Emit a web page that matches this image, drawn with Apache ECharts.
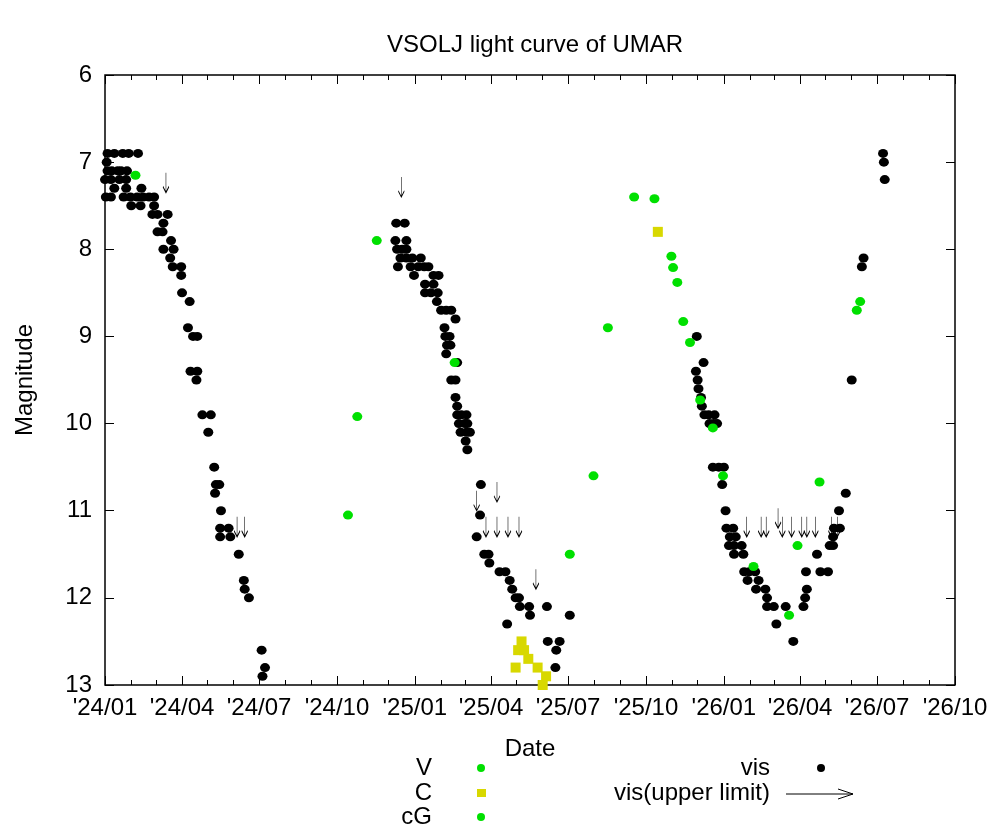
<!DOCTYPE html>
<html><head><meta charset="utf-8">
<script src="https://cdn.jsdelivr.net/npm/echarts@6/dist/echarts.min.js"></script>
<style>html,body{margin:0;padding:0;background:#fff}#c{width:1001px;height:840px}</style>
</head><body><div id="c"></div>
<script>
const titleText = 'VSOLJ light curve of UMAR';
const xStart = '2024-01-01', xEnd = '2026-10-01';
const quarterTicks = ['2024-01-01','2024-04-01','2024-07-01','2024-10-01','2025-01-01','2025-04-01','2025-07-01','2025-10-01','2026-01-01','2026-04-01','2026-07-01','2026-10-01'];
const magTicks = [6,7,8,9,10,11,12,13];

const visData = [
 ['2024-01-04',6.9],['2024-01-12',6.9],['2024-01-22',6.9],['2024-01-29',6.9],['2024-02-09',6.9],
 ['2024-01-04',7.1],['2024-01-09',7.1],['2024-01-16',7.1],['2024-01-20',7.1],['2024-01-27',7.1],['2024-01-03',7.0],
 ['2024-01-01',7.2],['2024-01-08',7.2],['2024-01-18',7.2],['2024-01-26',7.2],
 ['2024-01-12',7.3],['2024-01-26',7.3],['2024-02-13',7.3],
 ['2024-01-02',7.4],['2024-01-08',7.4],['2024-01-23',7.4],['2024-01-31',7.4],['2024-02-08',7.4],['2024-02-15',7.4],['2024-02-22',7.4],['2024-02-28',7.4],
 ['2024-02-01',7.5],['2024-02-12',7.5],['2024-02-28',7.5],
 ['2024-02-26',7.6],['2024-03-03',7.6],['2024-03-15',7.6],['2024-03-10',7.7],['2024-03-03',7.8],['2024-03-09',7.8],
 ['2024-03-19',7.9],['2024-03-10',8.0],['2024-03-22',8.0],['2024-03-18',8.1],['2024-03-21',8.2],['2024-03-31',8.2],['2024-03-31',8.3],
 ['2024-04-01',8.5],['2024-04-10',8.6],['2024-04-08',8.9],['2024-04-14',9.0],['2024-04-19',9.0],['2024-04-11',9.4],['2024-04-19',9.4],['2024-04-18',9.5],
 ['2024-04-25',9.9],['2024-05-05',9.9],['2024-05-02',10.1],['2024-05-09',10.5],['2024-05-11',10.7],['2024-05-15',10.7],['2024-05-10',10.8],
 ['2024-05-17',11.0],['2024-05-16',11.2],['2024-05-26',11.2],['2024-05-16',11.3],['2024-05-28',11.3],['2024-06-07',11.5],
 ['2024-06-13',11.8],['2024-06-14',11.9],['2024-06-19',12.0],['2024-07-04',12.6],['2024-07-08',12.8],['2024-07-05',12.9],
 ['2024-12-10',7.7],['2024-12-20',7.7],['2024-12-09',7.9],['2024-12-22',7.9],['2024-12-11',8.0],['2024-12-17',8.0],['2024-12-22',8.0],
 ['2024-12-15',8.1],['2024-12-22',8.1],['2024-12-29',8.1],['2025-01-08',8.1],['2024-12-12',8.2],['2024-12-27',8.2],['2025-01-05',8.2],['2025-01-12',8.2],['2025-01-17',8.2],
 ['2024-12-31',8.3],['2025-01-23',8.3],['2025-01-29',8.3],['2025-01-13',8.4],['2025-01-23',8.4],['2025-01-13',8.5],['2025-01-20',8.5],['2025-01-28',8.5],
 ['2025-01-27',8.6],['2025-02-01',8.7],['2025-02-07',8.7],['2025-02-13',8.7],['2025-02-18',8.8],['2025-02-05',8.9],['2025-02-06',9.0],['2025-02-11',9.0],
 ['2025-02-08',9.1],['2025-02-12',9.1],['2025-02-07',9.2],['2025-02-20',9.3],['2025-02-13',9.5],['2025-02-18',9.5],['2025-02-18',9.7],['2025-02-20',9.8],
 ['2025-02-20',9.9],['2025-02-25',9.9],['2025-03-03',9.9],['2025-02-22',10.0],['2025-03-01',10.0],['2025-03-04',10.0],['2025-02-24',10.1],['2025-03-03',10.1],['2025-03-07',10.1],
 ['2025-03-02',10.2],['2025-03-04',10.3],['2025-03-20',10.7],['2025-03-19',11.05],['2025-03-15',11.3],['2025-03-24',11.5],['2025-03-29',11.5],['2025-03-30',11.6],
 ['2025-04-11',11.7],['2025-04-18',11.7],['2025-04-23',11.8],['2025-04-26',11.9],['2025-04-30',12.0],['2025-05-04',12.0],['2025-05-05',12.1],['2025-05-16',12.1],['2025-06-06',12.1],
 ['2025-05-17',12.2],['2025-07-03',12.2],['2025-04-20',12.3],['2025-06-07',12.5],['2025-06-21',12.5],['2025-06-17',12.6],['2025-06-16',12.8],
 ['2025-11-30',9.0],['2025-12-08',9.3],['2025-11-29',9.4],['2025-12-01',9.5],['2025-12-02',9.6],['2025-12-05',9.7],['2025-12-06',9.8],
 ['2025-12-09',9.9],['2025-12-14',9.9],['2025-12-21',9.9],['2025-12-15',10.0],['2025-12-20',10.0],['2025-12-24',10.0],
 ['2025-12-19',10.5],['2025-12-26',10.5],['2026-01-01',10.5],['2025-12-30',10.7],['2026-01-03',11.0],['2026-01-04',11.2],['2026-01-12',11.2],
 ['2026-01-08',11.3],['2026-01-15',11.3],['2026-01-07',11.4],['2026-01-13',11.4],['2026-01-22',11.4],['2026-01-13',11.5],['2026-01-24',11.5],
 ['2026-01-25',11.7],['2026-01-31',11.7],['2026-02-07',11.7],['2026-01-29',11.8],['2026-02-11',11.8],['2026-02-08',11.9],['2026-02-19',11.9],['2026-02-21',12.0],
 ['2026-02-21',12.1],['2026-03-01',12.1],['2026-03-15',12.1],['2026-03-04',12.3],['2026-03-24',12.5],['2026-04-05',12.1],['2026-04-07',12.0],['2026-04-09',11.9],['2026-04-08',11.7],
 ['2026-04-21',11.5],['2026-04-25',11.7],['2026-05-04',11.7],['2026-05-06',11.4],['2026-05-10',11.4],['2026-05-10',11.3],['2026-05-11',11.2],['2026-05-18',11.2],
 ['2026-05-17',11.0],['2026-05-25',10.8],['2026-06-01',9.5],['2026-06-13',8.2],['2026-06-15',8.1],['2026-07-08',6.9],['2026-07-09',7.0],['2026-07-10',7.2]
];
const visLimitData = [
 ['2024-03-13',7.35],['2024-06-05',11.3],['2024-06-14',11.3],['2024-12-16',7.4],
 ['2025-03-15',11.0],['2025-04-08',10.9],['2025-03-26',11.3],['2025-04-08',11.3],['2025-04-21',11.3],['2025-05-04',11.3],['2025-05-24',11.9],
 ['2026-01-28',11.3],['2026-02-14',11.3],['2026-02-20',11.3],['2026-03-06',11.2],['2026-03-11',11.3],['2026-03-22',11.3],['2026-04-03',11.3],
 ['2026-04-09',11.3],['2026-04-19',11.3],['2026-05-08',11.3],['2026-05-15',11.3]
];
const vData = [
 ['2024-02-06',7.15],['2024-10-14',11.05],['2024-10-25',9.92],['2024-11-17',7.9],['2025-02-17',9.3],['2025-07-03',11.5],
 ['2025-07-31',10.6],['2025-08-17',8.9],['2025-09-17',7.4],['2025-10-11',7.42],['2025-10-31',8.08],['2025-11-02',8.21],['2025-11-07',8.38],
 ['2025-11-14',8.83],['2025-11-22',9.07],['2025-12-04',9.73],['2025-12-19',10.05],['2025-12-31',10.6],['2026-02-05',11.64],
 ['2026-03-19',12.2],['2026-03-29',11.4],['2026-04-24',10.67],['2026-06-07',8.7],['2026-06-11',8.6]
];
const cData = [
 ['2025-05-07',12.5],['2025-05-03',12.6],['2025-05-10',12.6],['2025-05-15',12.7],['2025-04-30',12.8],['2025-05-26',12.8],['2025-06-05',12.9],['2025-06-01',13.0],
 ['2025-10-15',7.8]
];
const cgData = [];

function ms(s){const p=s.split('-').map(Number);return Date.UTC(p[0],p[1]-1,p[2]);}
function conv(a){return a.map(d=>[ms(d[0]),d[1]]);}
const monthTicks=[];for(let y=2024;y<=2026;y++)for(let m=0;m<12;m++){const t=Date.UTC(y,m,1);if(t<=ms(xEnd))monthTicks.push(t);}
const qms=quarterTicks.map(ms);
function fmt(v){const d=new Date(v);return "'"+String(d.getUTCFullYear()).slice(2)+'/'+String(d.getUTCMonth()+1).padStart(2,'0');}
const F='"Liberation Sans", Arial, sans-serif';
const FS=24;
const axBase={type:'value',min:ms(xStart),max:ms(xEnd),splitLine:{show:false},axisLine:{show:false}};
const arrowPath='path://M5 0 L5 20 M2.5 14 L5 20 L7.5 14';
const chart=echarts.init(document.getElementById('c'));
chart.setOption({
 animation:false,backgroundColor:'#fff',
 title:{text:titleText,left:530,top:28,textAlign:'center',textStyle:{fontFamily:F,fontWeight:'normal',fontSize:FS,color:'#000'}},
 grid:{left:105,right:46,top:75,bottom:155,show:true,borderColor:'#000',borderWidth:1.5,backgroundColor:'transparent'},
 xAxis:[
  Object.assign({},axBase,{position:'bottom',name:'Date',nameLocation:'middle',nameGap:52,nameTextStyle:{fontFamily:F,fontSize:FS,color:'#000'},
   axisTick:{inside:true,length:9,customValues:qms,lineStyle:{color:'#000'}},
   axisLabel:{customValues:qms,formatter:fmt,fontFamily:F,fontSize:FS,color:'#000',margin:11}}),
  Object.assign({},axBase,{position:'bottom',axisTick:{inside:true,length:5,customValues:monthTicks,lineStyle:{color:'#000'}},axisLabel:{show:false}}),
  Object.assign({},axBase,{position:'top',axisTick:{inside:true,length:9,customValues:qms,lineStyle:{color:'#000'}},axisLabel:{show:false}}),
  Object.assign({},axBase,{position:'top',axisTick:{inside:true,length:5,customValues:monthTicks,lineStyle:{color:'#000'}},axisLabel:{show:false}})
 ],
 yAxis:[
  {type:'value',inverse:true,min:6,max:13,interval:1,position:'left',splitLine:{show:false},axisLine:{show:false},
   name:'Magnitude',nameLocation:'middle',nameGap:68,nameRotate:90,nameTextStyle:{fontFamily:F,fontSize:FS,color:'#000'},
   axisTick:{inside:true,length:9,lineStyle:{color:'#000'}},axisLabel:{fontFamily:F,fontSize:FS,color:'#000',margin:13}},
  {type:'value',inverse:true,min:6,max:13,interval:1,position:'right',splitLine:{show:false},axisLine:{show:false},
   axisTick:{inside:true,length:9,lineStyle:{color:'#000'}},axisLabel:{show:false}}
 ],
 series:[
  {name:'vis',type:'scatter',data:conv(visData),symbol:'circle',symbolSize:[10,9],itemStyle:{color:'#000',opacity:1}},
  {name:'vis(upper limit)',type:'scatter',data:conv(visLimitData),symbol:arrowPath,symbolSize:[6,20],symbolOffset:[0,'-50%'],
   itemStyle:{color:'none',borderColor:'#000',borderWidth:1,opacity:1}},
  {name:'V',type:'scatter',data:conv(vData),symbol:'circle',symbolSize:[10,9],itemStyle:{color:'#00e000',opacity:1}},
  {name:'C',type:'scatter',data:conv(cData),symbol:'rect',symbolSize:10,itemStyle:{color:'#d8d800',opacity:1}},
  {name:'cG',type:'scatter',data:conv(cgData),symbol:'circle',symbolSize:9,itemStyle:{color:'#00e000'}}
 ],
 graphic:[
  {type:'text',x:432,y:768,style:{text:'V',font:FS+'px '+F,fill:'#000',align:'right',verticalAlign:'middle'}},
  {type:'circle',shape:{cx:481,cy:768,r:4},style:{fill:'#00e000'}},
  {type:'text',x:432,y:793,style:{text:'C',font:FS+'px '+F,fill:'#000',align:'right',verticalAlign:'middle'}},
  {type:'rect',shape:{x:477,y:789,width:9,height:8},style:{fill:'#d8d800'}},
  {type:'text',x:432,y:817,style:{text:'cG',font:FS+'px '+F,fill:'#000',align:'right',verticalAlign:'middle'}},
  {type:'circle',shape:{cx:481,cy:817,r:4},style:{fill:'#00e000'}},
  {type:'text',x:770,y:768,style:{text:'vis',font:FS+'px '+F,fill:'#000',align:'right',verticalAlign:'middle'}},
  {type:'circle',shape:{cx:821,cy:768,r:4},style:{fill:'#000'}},
  {type:'text',x:770,y:793,style:{text:'vis(upper limit)',font:FS+'px '+F,fill:'#000',align:'right',verticalAlign:'middle'}},
  {type:'polyline',shape:{points:[[786,794],[853,794]]},style:{stroke:'#000',lineWidth:1}},
  {type:'polyline',shape:{points:[[838,789],[853,794],[838,799]]},style:{stroke:'#000',lineWidth:1,fill:'none'}}
 ]
});
</script></body></html>
